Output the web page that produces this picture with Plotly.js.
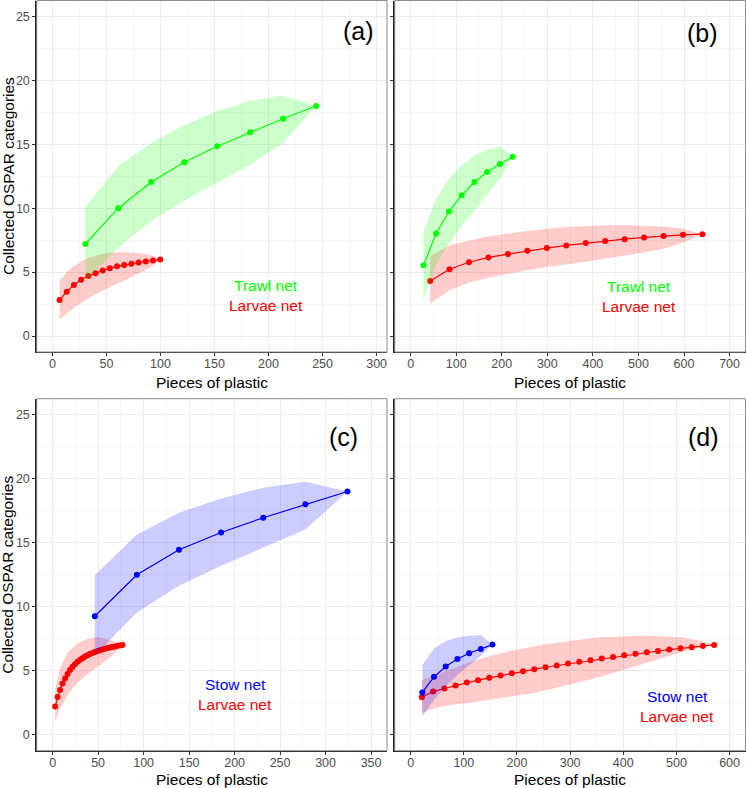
<!DOCTYPE html>
<html>
<head>
<meta charset="utf-8">
<script src="https://cdn.plot.ly/plotly-3.0.1.min.js"></script>
<style>html,body{margin:0;padding:0;background:#fff}#chart{width:746px;height:788px}</style>
</head>
<body>
<div id="chart"></div>
<script>
// ---------- Panel (a): Trawl net vs Larvae net ----------
const a_trawl_x  = [30.5, 61, 91.5, 122, 152.5, 183, 213.5, 244];
const a_trawl_y  = [7.2, 10.0, 12.05, 13.6, 14.85, 15.95, 17.0, 18.0];
const a_trawl_hi = [10.1, 13.3, 15.1, 16.5, 17.6, 18.4, 18.8, 18.0];
const a_trawl_lo = [4.3, 6.9, 9.0, 10.6, 12.0, 13.4, 15.1, 18.0];

const a_larvae_x  = [6.65, 13.3, 19.95, 26.6, 33.25, 39.9, 46.55, 53.2, 59.85, 66.5, 73.15, 79.8, 86.45, 93.1, 99.75];
const a_larvae_y  = [2.81, 3.47, 3.99, 4.40, 4.69, 4.92, 5.13, 5.31, 5.45, 5.55, 5.65, 5.76, 5.84, 5.91, 5.99];
const a_larvae_hi = [4.30, 5.00, 5.47, 5.84, 6.10, 6.30, 6.43, 6.51, 6.56, 6.56, 6.54, 6.49, 6.41, 6.28, 5.99];
const a_larvae_lo = [1.30, 1.77, 2.22, 2.61, 2.95, 3.26, 3.57, 3.83, 4.09, 4.35, 4.61, 4.87, 5.16, 5.52, 5.99];

// ---------- Panel (b): Trawl net vs Larvae net ----------
const b_trawl_x  = [28, 56, 84, 112, 140, 168, 196, 224];
const b_trawl_y  = [5.53, 8.02, 9.74, 11.01, 12.05, 12.83, 13.45, 14.02];
const b_trawl_hi = [8.26, 10.72, 12.33, 13.37, 14.10, 14.57, 14.80, 14.02];
const b_trawl_lo = [2.81, 5.58, 7.22, 8.60, 9.82, 11.04, 12.33, 14.02];

const b_larvae_x  = [42.7, 85.4, 128.1, 170.8, 213.5, 256.2, 298.9, 341.6, 384.3, 427, 469.7, 512.4, 555.1, 597.8, 640.5];
const b_larvae_y  = [4.31, 5.22, 5.77, 6.15, 6.41, 6.67, 6.88, 7.09, 7.27, 7.43, 7.58, 7.71, 7.82, 7.92, 7.97];
const b_larvae_hi = [6.26, 7.09, 7.48, 7.79, 8.02, 8.21, 8.39, 8.52, 8.61, 8.67, 8.68, 8.65, 8.57, 8.40, 7.97];
const b_larvae_lo = [2.55, 3.58, 4.18, 4.55, 4.88, 5.14, 5.40, 5.60, 5.82, 6.05, 6.28, 6.54, 6.83, 7.30, 7.97];

// ---------- Panel (c): Stow net vs Larvae net ----------
const c_stow_x  = [46.3, 92.6, 138.9, 185.2, 231.5, 277.8, 324.1];
const c_stow_y  = [9.25, 12.5, 14.45, 15.8, 16.95, 18.0, 19.0];
const c_stow_hi = [12.46, 15.65, 17.34, 18.46, 19.29, 19.76, 19.0];
const c_stow_lo = [6.18, 9.55, 11.63, 13.19, 14.62, 16.04, 19.0];

const c_larvae_x  = [2.74, 5.48, 8.22, 10.96, 13.7, 16.44, 19.18, 21.92, 24.66, 27.4, 30.14, 32.88, 35.62, 38.36,
                     41.1, 43.84, 46.58, 49.32, 52.06, 54.8, 57.54, 60.28, 63.02, 65.76, 68.5, 71.24, 73.98, 76.72];
const c_larvae_y  = [2.2, 2.95, 3.5, 4.0, 4.4, 4.75, 5.05, 5.3, 5.52, 5.7, 5.85, 5.98, 6.1, 6.2,
                     6.3, 6.38, 6.46, 6.53, 6.6, 6.66, 6.72, 6.77, 6.82, 6.86, 6.9, 6.94, 6.97, 7.0];
const c_larvae_hi = [3.55, 4.45, 5.15, 5.6, 6.05, 6.4, 6.62, 6.8, 6.97, 7.12, 7.24, 7.34, 7.42, 7.48,
                     7.53, 7.57, 7.6, 7.61, 7.6, 7.56, 7.52, 7.46, 7.41, 7.35, 7.29, 7.22, 7.12, 7.0];
const c_larvae_lo = [1.0, 1.55, 2.05, 2.4, 2.75, 3.08, 3.35, 3.6, 3.85, 4.05, 4.25, 4.43, 4.6, 4.77,
                     4.92, 5.07, 5.22, 5.37, 5.5, 5.63, 5.77, 5.9, 6.05, 6.2, 6.38, 6.57, 6.78, 7.0];

// ---------- Panel (d): Stow net vs Larvae net ----------
const d_stow_x  = [22, 44, 66, 88, 110, 132, 154];
const d_stow_y  = [3.30, 4.52, 5.32, 5.92, 6.36, 6.70, 7.04];
const d_stow_hi = [5.45, 6.75, 7.3, 7.6, 7.74, 7.79, 7.04];
const d_stow_lo = [1.43, 2.73, 3.76, 4.67, 5.45, 6.15, 7.04];

const d_larvae_x  = [21.15, 42.3, 63.45, 84.6, 105.75, 126.9, 148.05, 169.2, 190.35, 211.5, 232.65, 253.8, 274.95, 296.1,
                     317.25, 338.4, 359.55, 380.7, 401.85, 423, 444.15, 465.3, 486.45, 507.6, 528.75, 549.9, 571.05];
const d_larvae_y  = [2.93, 3.37, 3.61, 3.84, 4.08, 4.26, 4.44, 4.62, 4.80, 4.96, 5.11, 5.27, 5.40, 5.56,
                     5.69, 5.82, 5.95, 6.07, 6.20, 6.33, 6.44, 6.54, 6.65, 6.75, 6.83, 6.93, 7.01];
const d_larvae_hi = [4.28, 4.62, 4.96, 5.27, 5.58, 5.87, 6.13, 6.36, 6.57, 6.75, 6.91, 7.06, 7.19, 7.32,
                     7.42, 7.53, 7.61, 7.66, 7.71, 7.74, 7.74, 7.71, 7.68, 7.61, 7.48, 7.29, 7.01];
const d_larvae_lo = [1.70, 2.05, 2.25, 2.37, 2.48, 2.60, 2.72, 2.85, 2.98, 3.12, 3.25, 3.45, 3.65, 3.88,
                     4.10, 4.32, 4.55, 4.80, 5.05, 5.32, 5.58, 5.85, 6.15, 6.42, 6.65, 6.85, 7.01];

// ---------- Labels ----------
const panelLabels = ["(a)", "(b)", "(c)", "(d)"];
const netNames = {trawl: "Trawl net", stow: "Stow net", larvae: "Larvae net"};
const xTitle = "Pieces of plastic";
const yTitle = "Collected OSPAR categories";

const COL = {
  green: {line: "#00FF00", fill: "rgba(0,255,0,0.2)"},
  red:   {line: "#FF0000", fill: "rgba(255,0,0,0.2)"},
  blue:  {line: "#0000FF", fill: "rgba(0,0,255,0.2)"}
};

function series(xs, ys, lo, hi, col, xa, ya, name) {
  return [
    {type: "scatter", mode: "lines", x: xs.concat(xs.slice().reverse()),
     y: hi.concat(lo.slice().reverse()), fill: "toself", fillcolor: col.fill,
     line: {width: 0, color: col.fill}, hoverinfo: "skip", showlegend: false, xaxis: xa, yaxis: ya},
    {type: "scatter", mode: "lines+markers", x: xs, y: ys, name: name,
     line: {color: col.line, width: 1.2}, marker: {color: col.line, size: 6},
     showlegend: false, xaxis: xa, yaxis: ya}
  ];
}

const traces = [].concat(
  series(a_larvae_x, a_larvae_y, a_larvae_lo, a_larvae_hi, COL.red, "x", "y", netNames.larvae),
  series(a_trawl_x, a_trawl_y, a_trawl_lo, a_trawl_hi, COL.green, "x", "y", netNames.trawl),
  series(b_larvae_x, b_larvae_y, b_larvae_lo, b_larvae_hi, COL.red, "x2", "y2", netNames.larvae),
  series(b_trawl_x, b_trawl_y, b_trawl_lo, b_trawl_hi, COL.green, "x2", "y2", netNames.trawl),
  series(c_larvae_x, c_larvae_y, c_larvae_lo, c_larvae_hi, COL.red, "x3", "y3", netNames.larvae),
  series(c_stow_x, c_stow_y, c_stow_lo, c_stow_hi, COL.blue, "x3", "y3", netNames.stow),
  series(d_larvae_x, d_larvae_y, d_larvae_lo, d_larvae_hi, COL.red, "x4", "y4", netNames.larvae),
  series(d_stow_x, d_stow_y, d_stow_lo, d_stow_hi, COL.blue, "x4", "y4", netNames.stow)
);

const W = 746, H = 788;
const FONT = "Arial, 'Liberation Sans', sans-serif";
const colL = [36.7 / W, 387 / W], colR = [394.7 / W, 745.5 / W];
const rowT = [1 - 352 / H, 1 - 0.5 / H], rowB = [1 - 750.7 / H, 1 - 398.7 / H];

function xax(domain, range, dtick, anchor) {
  return {domain: domain, range: range, anchor: anchor, dtick: dtick, tick0: 0,
    showgrid: true, gridcolor: "#EBEBEB", gridwidth: 1,
    minor: {dtick: dtick / 2, showgrid: true, gridcolor: "#F4F4F4", gridwidth: 0.7},
    zeroline: false, showline: true, linecolor: "#222", linewidth: 1.4,
    ticks: "outside", ticklen: 3, tickcolor: "#333", tickwidth: 1, ticklabelstandoff: -3,
    tickfont: {family: FONT, size: 12.5, color: "#4D4D4D"}, fixedrange: true};
}
function yax(domain, anchor, labels) {
  return {domain: domain, range: [-1.25, 26.25], anchor: anchor, dtick: 5, tick0: 0,
    showgrid: true, gridcolor: "#EBEBEB", gridwidth: 1,
    minor: {dtick: 2.5, showgrid: true, gridcolor: "#F4F4F4", gridwidth: 0.7},
    zeroline: false, showline: true, linecolor: "#222", linewidth: 1.4,
    ticks: "outside", ticklen: 3, tickcolor: "#333", tickwidth: 1,
    showticklabels: labels,
    tickfont: {family: FONT, size: 12.5, color: "#4D4D4D"}, fixedrange: true};
}

function border(xr, yr) {
  return {type: "rect", xref: xr + " domain", yref: yr + " domain", x0: 0, x1: 1, y0: 0, y1: 1,
          line: {color: "#8C8C8C", width: 1}, layer: "above"};
}
function txt(text, px, py, size, color, angle) {
  return {text: text, xref: "paper", yref: "paper", x: px / W, y: 1 - py / H,
          xanchor: "center", yanchor: "middle", showarrow: false, textangle: angle || 0,
          font: {family: FONT, size: size, color: color}};
}

const annotations = [
  txt(panelLabels[0], 358, 31.5, 25, "#000"),
  txt(panelLabels[1], 702, 33, 25, "#000"),
  txt(panelLabels[2], 343, 437, 25, "#000"),
  txt(panelLabels[3], 703, 437, 25, "#000"),
  txt(netNames.trawl, 265.7, 285.7, 15.5, "#00FF00"),
  txt(netNames.larvae, 265.7, 305.7, 15.5, "#FF0000"),
  txt(netNames.trawl, 638.7, 286.7, 15.5, "#00FF00"),
  txt(netNames.larvae, 638.7, 306.3, 15.5, "#FF0000"),
  txt(netNames.stow, 235, 684, 15.5, "#0000FF"),
  txt(netNames.larvae, 235, 704, 15.5, "#FF0000"),
  txt(netNames.stow, 677, 696.7, 15.5, "#0000FF"),
  txt(netNames.larvae, 677, 716.7, 15.5, "#FF0000"),
  txt(xTitle, 212, 382, 15.5, "#000"),
  txt(xTitle, 570, 382, 15.5, "#000"),
  txt(xTitle, 212, 779.5, 15.5, "#000"),
  txt(xTitle, 570, 779.5, 15.5, "#000"),
  txt(yTitle, 8, 176, 15.5, "#000", -90),
  txt(yTitle, 8, 574.7, 15.5, "#000", -90)
];

const layout = {
  width: W, height: H, margin: {l: 0, r: 0, t: 0, b: 0},
  paper_bgcolor: "#fff", plot_bgcolor: "#fff", showlegend: false,
  font: {family: FONT},
  xaxis:  xax(colL, [-14.5, 309.6], 50, "y"),
  yaxis:  yax(rowT, "x", true),
  xaxis2: xax(colR, [-35, 735], 100, "y2"),
  yaxis2: yax(rowT, "x2", false),
  xaxis3: xax(colL, [-17.5, 367.5], 50, "y3"),
  yaxis3: yax(rowB, "x3", true),
  xaxis4: xax(colR, [-30, 630], 100, "y4"),
  yaxis4: yax(rowB, "x4", false),
  shapes: [border("x", "y"), border("x2", "y2"), border("x3", "y3"), border("x4", "y4")],
  annotations: annotations
};

Plotly.newPlot("chart", traces, layout, {displayModeBar: false, staticPlot: true});
</script>
</body>
</html>
